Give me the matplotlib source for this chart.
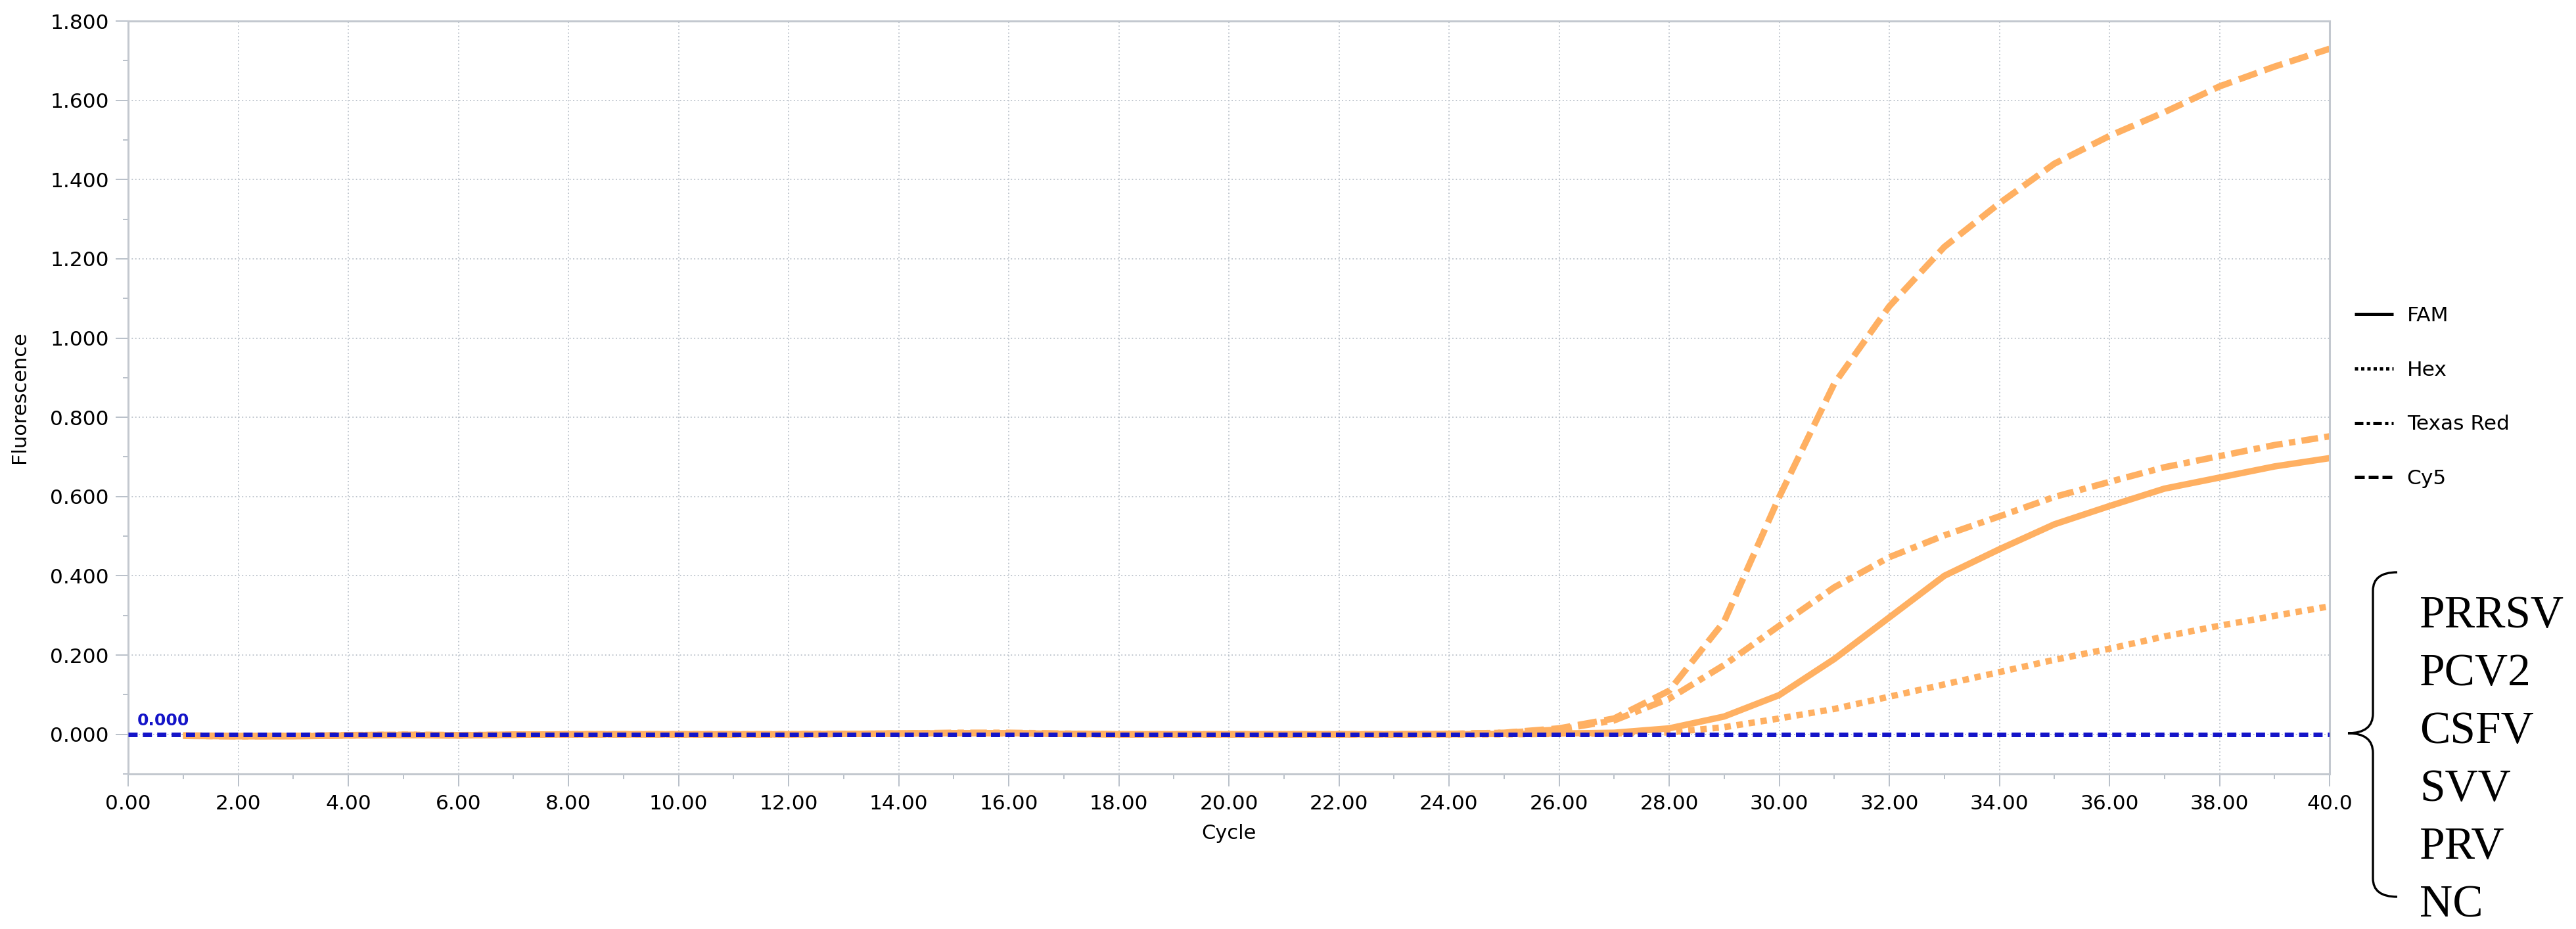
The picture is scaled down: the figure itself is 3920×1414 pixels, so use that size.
import matplotlib
matplotlib.use("Agg")
import matplotlib.pyplot as plt
import numpy as np
from matplotlib.lines import Line2D
from matplotlib.path import Path
from matplotlib.patches import PathPatch
from matplotlib.ticker import MultipleLocator, FormatStrFormatter

# amplification curves
cycles = np.arange(1, 41)

fam = [-0.004, -0.005, -0.005, -0.003, -0.002, -0.003, -0.001, 0.000, 0.000, 0.000,
       0.000, 0.000, 0.001, 0.002, 0.003, 0.003, 0.001, 0.000, 0.000, 0.000,
       0.000, 0.000, 0.000, 0.000, 0.001, 0.002, 0.004, 0.015, 0.045, 0.099,
       0.190, 0.295, 0.400, 0.467, 0.530, 0.576, 0.620, 0.648, 0.676, 0.697]

hex_ = [-0.003, -0.004, -0.004, -0.002, -0.001, -0.002, -0.001, 0.000, 0.000, 0.000,
        0.000, 0.000, 0.001, 0.002, 0.003, 0.002, 0.001, 0.000, 0.000, 0.000,
        0.000, 0.000, 0.000, 0.000, 0.000, 0.001, 0.002, 0.005, 0.018, 0.040,
        0.064, 0.095, 0.126, 0.157, 0.188, 0.216, 0.247, 0.274, 0.299, 0.323]

texas_red = [-0.004, -0.005, -0.004, -0.003, -0.002, -0.003, -0.001, 0.000, 0.000, 0.000,
             0.000, 0.000, 0.001, 0.002, 0.004, 0.004, 0.002, 0.000, 0.000, 0.000,
             0.000, 0.000, 0.000, 0.001, 0.004, 0.012, 0.035, 0.090, 0.175, 0.274,
             0.371, 0.447, 0.502, 0.550, 0.599, 0.637, 0.674, 0.702, 0.730, 0.752]

cy5 = [-0.003, -0.004, -0.004, -0.002, -0.001, -0.002, -0.001, 0.000, 0.000, 0.000,
       0.000, 0.000, 0.001, 0.002, 0.003, 0.003, 0.001, 0.000, 0.000, 0.000,
       0.000, 0.000, 0.000, 0.001, 0.004, 0.015, 0.040, 0.110, 0.285, 0.599,
       0.885, 1.080, 1.230, 1.340, 1.440, 1.510, 1.570, 1.635, 1.685, 1.730]

threshold = 0.0
channels = ['FAM', 'Hex', 'Texas Red', 'Cy5']
samples = ['PRRSV', 'PCV2', 'CSFV', 'SVV', 'PRV', 'NC']

x_ticks = np.arange(0, 41, 2)
x_tick_labels = ['%.2f' % v for v in x_ticks[:-1]] + ['40.0']

W, H = 3920, 1414
orange = '#ffb062'
grid_c = '#b9c0c9'
styles = {
    'FAM': '-',
    'Hex': (0, (1.0, 0.9)),
    'Texas Red': (0, (2.6, 1.0, 1.0, 1.0)),
    'Cy5': (0, (3.0, 1.2)),
}

plt.rcParams['font.family'] = 'DejaVu Sans'

fig = plt.figure(figsize=(W / 100, H / 100), dpi=100)
ax = fig.add_axes([195 / W, 1 - 1178 / H, (3545 - 195) / W, (1178 - 32) / H])

for name, vals in zip(channels, [fam, hex_, texas_red, cy5]):
    ax.plot(cycles, vals, color=orange, lw=7, linestyle=styles[name],
            solid_capstyle='butt', dash_capstyle='butt')

ax.axhline(threshold, color='#1414c8', lw=5, linestyle=(0, (2.0, 1.15)),
           dash_capstyle='butt', zorder=5)
ax.annotate('%.3f' % threshold, xy=(0, threshold), xytext=(10, 6),
            textcoords='offset points', color='#1414c8', fontsize=18,
            fontweight='semibold', va='bottom', ha='left')

ax.set_xlim(0, 40)
ax.set_ylim(-0.1, 1.8)
ax.set_xticks(x_ticks)
ax.set_xticklabels(x_tick_labels)
ax.xaxis.set_minor_locator(MultipleLocator(1))
ax.yaxis.set_major_locator(MultipleLocator(0.2))
ax.yaxis.set_minor_locator(MultipleLocator(0.1))
ax.yaxis.set_major_formatter(FormatStrFormatter('%.3f'))

ax.grid(which='major', color=grid_c, linestyle=(0, (1, 2)), lw=1.3)
ax.tick_params(which='major', length=14, width=1.4, color=grid_c,
               labelsize=22.5, pad=7)
ax.tick_params(axis='x', which='major', pad=8)
ax.tick_params(which='minor', length=6, width=1.4, color=grid_c)
for s in ax.spines.values():
    s.set_color('#c3c8cf')
    s.set_linewidth(2.2)

ax.set_xlabel('Cycle', fontsize=22, labelpad=12)
ax.set_ylabel('Fluorescence', fontsize=22)
ax.yaxis.set_label_coords(-0.045, 0.5)

handles = [Line2D([], [], color='black', lw=3.6, linestyle=styles[n],
                  solid_capstyle='butt', dash_capstyle='butt') for n in channels]
fig.legend(handles, channels, loc='upper left',
           bbox_to_anchor=(3583 / W, 1 - 466 / H), frameon=False,
           fontsize=22.5, handlelength=1.9, handletextpad=0.65,
           labelspacing=1.72, borderpad=0, borderaxespad=0)

# curly brace grouping the sample names
xl, xh, xt = 3611, 3648, 3573
yt, ym, yb = 871, 1116, 1365
pts = [(xh, yt), (xl, yt), (xl, yt + 28), (xl, ym - 30), (xl, ym), (xt, ym),
       (xl, ym), (xl, ym + 30), (xl, yb - 28), (xl, yb), (xh, yb)]
codes = [Path.MOVETO, Path.CURVE3, Path.CURVE3, Path.LINETO, Path.CURVE3, Path.CURVE3,
         Path.CURVE3, Path.CURVE3, Path.LINETO, Path.CURVE3, Path.CURVE3]
pts = [(x / W, 1 - y / H) for x, y in pts]
fig.patches.append(PathPatch(Path(pts, codes), transform=fig.transFigure,
                             fill=False, lw=2.4, edgecolor='black'))

for i, s in enumerate(samples):
    fig.text(3682 / W, 1 - (931 + i * 88) / H, s, fontsize=50,
             family='Liberation Serif', va='center_baseline', ha='left')

fig.savefig('out.png', dpi=100, facecolor='white')
